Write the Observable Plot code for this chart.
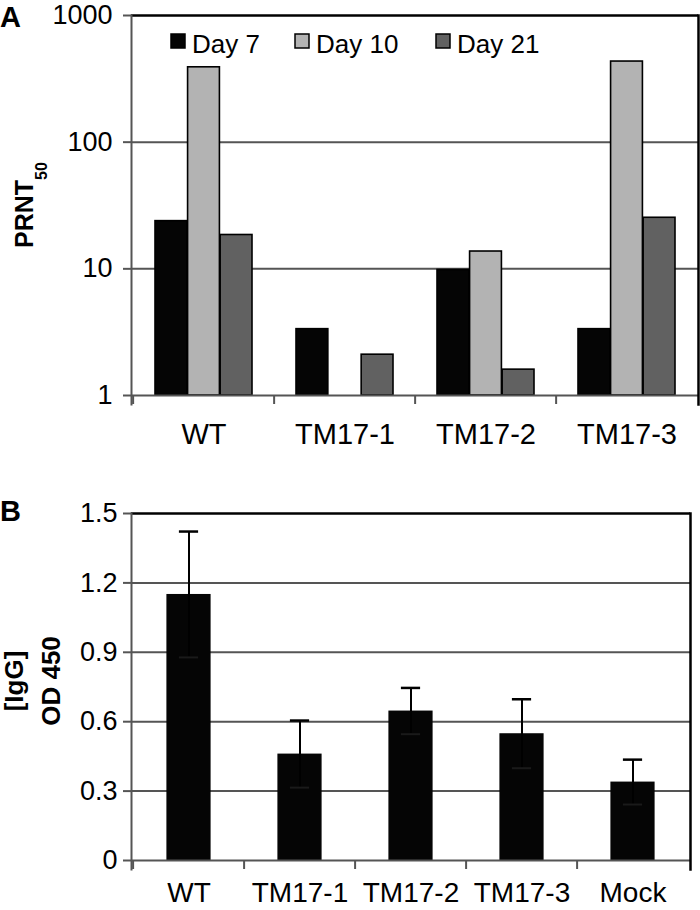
<!DOCTYPE html>
<html><head><meta charset="utf-8">
<script src="https://cdn.jsdelivr.net/npm/d3@7"></script>
<script src="https://cdn.jsdelivr.net/npm/@observablehq/plot@0.6"></script>
<style>
body{margin:0;background:#fff;}
#wrap{position:relative;width:700px;height:910px;overflow:hidden;background:#fff;font-family:"Liberation Sans",Arial,sans-serif;}
#wrap > svg{position:absolute;left:0;}
</style></head><body><div id="wrap"></div>
<script>
// ---------- Panel A data ----------
const groupsA = ["WT", "TM17-1", "TM17-2", "TM17-3"];
const daysA = ["Day 7", "Day 10", "Day 21"];
const day7 = [23.8, 3.34, 9.8, 3.34];
const day10 = [390, null, 13.7, 433];
const day21 = [18.5, 2.1, 1.6, 25.3];
const dayColors = ["#050505", "#b3b3b3", "#616161"];
const yTicksA = [1, 10, 100, 1000];
const yLabelA = "PRNT", yLabelASub = "50";

// ---------- Panel B data ----------
const groupsB = ["WT", "TM17-1", "TM17-2", "TM17-3", "Mock"];
const meanB = [1.15, 0.46, 0.646, 0.548, 0.339];
const errB = [0.272, 0.145, 0.1, 0.149, 0.097];
const yTicksB = [0, 0.3, 0.6, 0.9, 1.2, 1.5];
const yTickLabelsB = ["0", "0.3", "0.6", "0.9", "1.2", "1.5"];
const yLabelB = ["[IgG]", "OD 450"];

const FONT = "Liberation Sans, Arial, sans-serif";
const GRID = "#555555";
const W = 700;
const wrap = document.getElementById("wrap");

// ---------- Panel A ----------
const mA = {top: 15, right: 2, bottom: 60, left: 131};
const HA = 455;
const stepA = (W - mA.left - mA.right) / groupsA.length;
const gp = 22, bw = (stepA - 2 * gp) / 3;
const seriesA = [day7, day10, day21];
const barsA = seriesA.map((vals, k) =>
  Plot.barY(
    groupsA.map((g, i) => ({group: g, day: daysA[k], value: vals[i]})).filter(d => d.value != null),
    {x: "group", y1: 1, y2: "value", fill: dayColors[k], stroke: "#000", strokeWidth: 1.6,
     insetLeft: gp + k * bw, insetRight: stepA - gp - (k + 1) * bw}
  )
);
const plotA = Plot.plot({
  width: W, height: HA,
  marginTop: mA.top, marginRight: mA.right, marginBottom: mA.bottom, marginLeft: mA.left,
  style: {fontFamily: FONT, background: "transparent", color: "#000", overflow: "visible"},
  x: {domain: groupsA, padding: 0, axis: null},
  y: {type: "log", domain: [1, 1000], axis: null},
  marks: [
    Plot.gridY([10, 100], {stroke: GRID, strokeWidth: 2, strokeOpacity: 1}),
    ...barsA,
    Plot.ruleY([1000], {stroke: "#000", strokeWidth: 2.5}),
    Plot.ruleY([1], {stroke: GRID, strokeWidth: 2}),
    Plot.frame({anchor: "left", stroke: GRID, strokeWidth: 2, insetBottom: -9}),
    Plot.frame({anchor: "right", stroke: "#000", strokeWidth: 2.5, insetBottom: -9}),
    Plot.ruleX(groupsA, {x: d => d, y1: 1, y2: 1, insetBottom: -9, dx: -stepA / 2, stroke: GRID, strokeWidth: 2}),
    Plot.axisY(yTicksA, {tickSize: 8, tickPadding: 11, fontSize: 27, stroke: GRID, strokeWidth: 2, fill: "#000", tickFormat: d => String(d), label: null}),
    Plot.axisX({tickSize: 0, tickPadding: 28, fontSize: 29, fill: "#000", label: null})
  ]
});
plotA.style.top = "0px";
wrap.appendChild(plotA);

// ---------- Panel B ----------
const topB = 455;
const mB = {top: 58, right: 10, bottom: 50, left: 131};
const HB = 910 - topB;
const stepB = (W - mB.left - mB.right) / groupsB.length;
const barWB = 45, capW = 20;
const rowsB = groupsB.map((g, i) => ({group: g, mean: meanB[i], err: errB[i]}));
const plotB = Plot.plot({
  width: W, height: HB,
  marginTop: mB.top, marginRight: mB.right, marginBottom: mB.bottom, marginLeft: mB.left,
  style: {fontFamily: FONT, background: "transparent", color: "#000", overflow: "visible"},
  x: {domain: groupsB, padding: 0, axis: null},
  y: {domain: [0, 1.5], axis: null},
  marks: [
    Plot.gridY(yTicksB.slice(1, -1), {stroke: GRID, strokeWidth: 2, strokeOpacity: 1}),
    Plot.barY(rowsB, {x: "group", y: "mean", fill: "#050505", insetLeft: (stepB - barWB) / 2, insetRight: (stepB - barWB) / 2}),
    Plot.ruleX(rowsB, {x: "group", y1: d => d.mean - d.err, y2: d => d.mean + d.err, stroke: "#000", strokeWidth: 2}),
    Plot.tickY(rowsB, {x: "group", y: d => d.mean + d.err, stroke: "#000", strokeWidth: 2.5, insetLeft: (stepB - capW) / 2, insetRight: (stepB - capW) / 2}),
    Plot.tickY(rowsB, {x: "group", y: d => d.mean - d.err, stroke: "#1a1a1a", strokeWidth: 2, insetLeft: (stepB - capW) / 2, insetRight: (stepB - capW) / 2}),
    Plot.ruleY([1.5], {stroke: "#000", strokeWidth: 2.5}),
    Plot.ruleY([0], {stroke: GRID, strokeWidth: 2}),
    Plot.frame({anchor: "left", stroke: GRID, strokeWidth: 2, insetBottom: -9}),
    Plot.frame({anchor: "right", stroke: "#000", strokeWidth: 2.5, insetBottom: -9}),
    Plot.ruleX(groupsB, {x: d => d, y1: 0, y2: 0, insetBottom: -9, dx: -stepB / 2, stroke: GRID, strokeWidth: 2}),
    Plot.axisY(yTicksB, {tickSize: 8, tickPadding: 6, fontSize: 27, stroke: GRID, strokeWidth: 2, fill: "#000", tickFormat: d => yTickLabelsB[yTicksB.indexOf(d)], label: null}),
    Plot.axisX({tickSize: 0, tickPadding: 22, fontSize: 28, fill: "#000", label: null})
  ]
});
plotB.style.top = topB + "px";
wrap.appendChild(plotB);

// ---------- Annotations: panel letters, axis titles, legend ----------
const ov = d3.select(wrap).append("svg")
  .attr("width", W).attr("height", 910)
  .style("position", "absolute").style("top", "0px").style("left", "0px")
  .style("font-family", FONT);

ov.append("text").attr("x", 0).attr("y", 27).attr("font-size", 29).attr("font-weight", "bold").text("A");
ov.append("text").attr("x", 0).attr("y", 521).attr("font-size", 29).attr("font-weight", "bold").text("B");

const tA = ov.append("text").attr("transform", "translate(33,205) rotate(-90)")
  .attr("text-anchor", "middle").attr("font-size", 25).attr("font-weight", "bold");
tA.append("tspan").text(yLabelA);
tA.append("tspan").attr("dy", 14).attr("font-size", 16).text(yLabelASub);

ov.append("text").attr("transform", "translate(23,681) rotate(-90)")
  .attr("text-anchor", "middle").attr("font-size", 26).attr("font-weight", "bold").text(yLabelB[0]);
ov.append("text").attr("transform", "translate(60,681) rotate(-90)")
  .attr("text-anchor", "middle").attr("font-size", 26).attr("font-weight", "bold").text(yLabelB[1]);

const legX = [171, 295, 436];
daysA.forEach((d, k) => {
  ov.append("rect").attr("x", legX[k]).attr("y", 34).attr("width", 14).attr("height", 14)
    .attr("fill", dayColors[k]).attr("stroke", "#000").attr("stroke-width", 1.5);
  ov.append("text").attr("x", legX[k] + 21).attr("y", 53).attr("font-size", 26).text(d);
});
</script>
</body></html>
